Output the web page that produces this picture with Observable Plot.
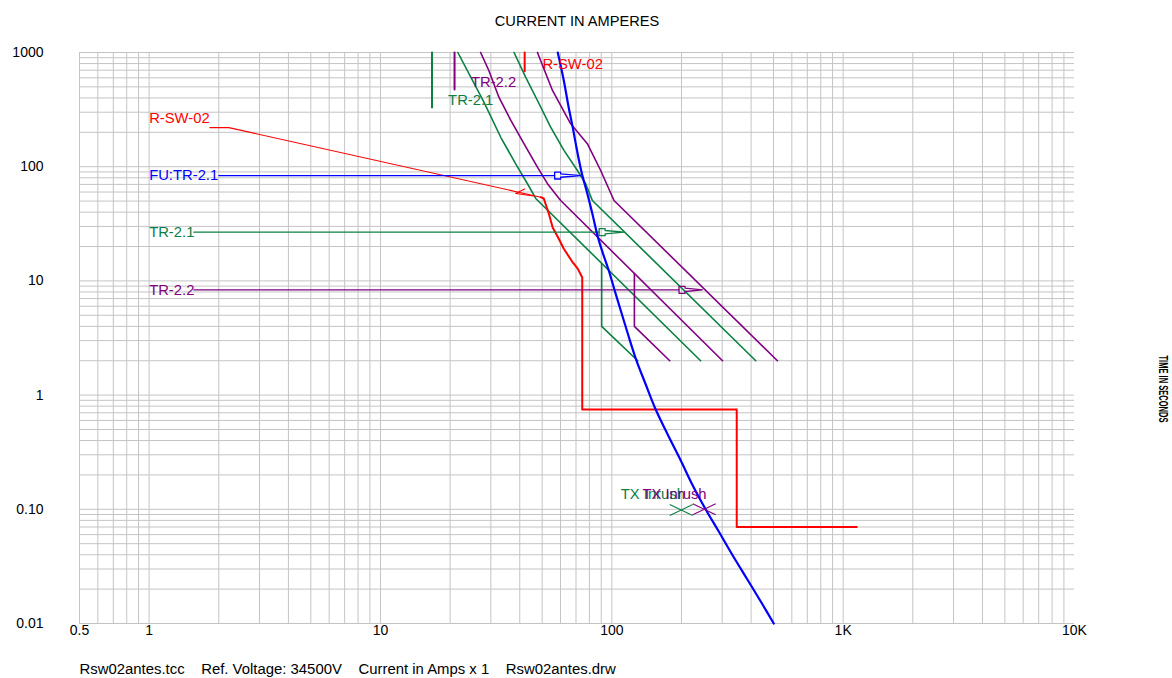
<!DOCTYPE html>
<html>
<head>
<meta charset="utf-8">
<script src="https://cdn.jsdelivr.net/npm/d3@7"></script>
<script src="https://cdn.jsdelivr.net/npm/@observablehq/plot@0.6"></script>
<style>
  html, body { margin: 0; padding: 0; background: #fff; }
</style>
</head>
<body>
<div id="chart"></div>
<script>
// ---------- axis ticks ----------
const xTicks = [0.5, 1, 10, 100, 1000, 10000];
const xTickLabels = ["0.5", "1", "10", "100", "1K", "10K"];
const yTicks = [0.01, 0.1, 1, 10, 100, 1000];
const yTickLabels = ["0.01", "0.10", "1", "10", "100", "1000"];

// ---------- FU:TR-2.1 fuse curve (blue) ----------
const fuseI = [58.4, 62.0, 65.1, 67.8, 69.8, 72.15, 74.6, 78.4, 82.4, 86.9, 91.3, 97.0, 102.9, 109.3, 117.2, 126.9, 140.2, 154.8, 174.4, 198.6, 223.8, 254.7, 289.9, 333.2, 383.1, 440.4, 501.2];
const fuseT = [1000, 569, 330, 220, 160, 113.3, 83.7, 57.9, 38.7, 24.5, 17.7, 12.33, 8.24, 5.51, 3.46, 2.09, 1.238, 0.748, 0.452, 0.2676, 0.1616, 0.0996, 0.0639, 0.0394, 0.02477, 0.01558, 0.01];

// ---------- R-SW-02 relay curve (red) ----------
const relayI = [49.3, 50.8, 53.4, 55.5, 58.9, 61.9, 67.8, 71.2, 74.5, 74.5, 346.7, 346.7, 1145];
const relayT = [54.1, 52.7, 38.9, 29.4, 23.5, 19.2, 14.5, 12.8, 10.7, 0.748, 0.748, 0.070, 0.070];
const relayLeaderI = [1.83, 2.21, 49.3];
const relayLeaderT = [220, 220, 54.1];
const relayArrowI = [42.0, 38.4, 45.9];
const relayArrowT = [63.8, 58.3, 55.4];
const relayTickI = [42.0, 42.0];
const relayTickT = [1000, 686];

// ---------- TR-2.1 damage curves (green) ----------
const tr21aI = [21.6, 28.0, 33.1, 38.4, 43.2, 46.9, 242];
const tr21aT = [1000, 367, 181, 106, 70.9, 52.7, 2];
const tr21bI = [37.8, 42.4, 47.7, 54.4, 62.1, 71.0, 77.1, 82.4, 419];
const tr21bT = [1000, 608, 380, 222, 139, 92.6, 70.9, 50.6, 2];
const tr21cI = [90.4, 90.4, 129.4];
const tr21cT = [14.2, 4, 2];
const tr21TickI = [16.7, 16.7];
const tr21TickT = [1000, 330];

// ---------- TR-2.2 damage curves (purple) ----------
const tr22aI = [27.1, 29.4, 32.5, 36.6, 41.7, 47.7, 52.7, 60.1, 301];
const tr22aT = [1000, 696, 406, 254, 159, 99, 71, 50.6, 2];
const tr22bI = [47.7, 55.4, 66.4, 78.4, 89.5, 102.2, 520];
const tr22bT = [1000, 465, 237.5, 159, 92.6, 50.6, 2];
const tr22cI = [125.2, 125.2, 178];
const tr22cT = [11.6, 4, 2];
const tr22TickI = [20.9, 20.9];
const tr22TickT = [1000, 474];

// ---------- label leaders: start current, arrow base, arrow tip, time ----------
const leaderNames = ["FU:TR-2.1", "TR-2.1", "TR-2.2"];
const leaderStart = [2.0, 1.56, 1.56];
const leaderBase = [56.6, 88.1, 195.2];
const leaderTip = [73.4, 112.9, 246.5];
const leaderTime = [83.7, 26.7, 8.36];
const leaderColors = ["#0000ff", "#0a8043", "#800080"];

// ---------- TX inrush points ----------
const inrushI = [199.5, 250.9];
const inrushT = [0.0986, 0.1];
const inrushColors = ["#0a8043", "#800080"];

// ---------- curve labels ----------
const labelText = ["R-SW-02", "FU:TR-2.1", "TR-2.1", "TR-2.2", "R-SW-02", "TR-2.2", "TR-2.1", "TX Inrush", "TX Inrush"];
const labelI = [1.0, 1.0, 1.0, 1.0, 50.1, 24.6, 19.6, 109.3, 135.6];
const labelT = [266, 83.7, 26.7, 8.36, 796, 549, 380, 0.135, 0.135];
const labelColor = ["#ff0000", "#0000ff", "#0a8043", "#800080", "#ff0000", "#800080", "#0a8043", "#0a8043", "#800080"];

const titleText = "CURRENT IN AMPERES";
const sideText = "TIME IN SECONDS";
const footerText = "Rsw02antes.tcc\u00a0\u00a0\u00a0\u00a0Ref. Voltage: 34500V\u00a0\u00a0\u00a0\u00a0Current in Amps x 1\u00a0\u00a0\u00a0\u00a0Rsw02antes.drw";

// ---------- helpers ----------
const pts = (I, T) => I.map((v, i) => ({I: v, t: T[i]}));
const decades = [0.001, 0.01, 0.1, 1, 10, 100, 1000];
const logGrid = (lo, hi) => decades.flatMap(d => d3.range(1, 10).map(k => +(k * d).toPrecision(3))).filter(v => v >= lo - 1e-9 && v <= hi + 1e-9);
const gridX = logGrid(0.5, 10000);
const gridY = logGrid(0.01, 1000);

const GREEN = "#0a8043", PURPLE = "#800080", RED = "#ff0000", BLUE = "#0000ff";

// arrow outline at the end of each leader (sizes as multiplicative factors in log space)
const aw = 1.0616, ah = 1.073, ahi = 1.035;
const arrows = leaderNames.flatMap((name, k) => {
  const b = leaderBase[k], tp = leaderTip[k], t = leaderTime[k];
  return [[b, t * ah], [b * aw, t * ah], [b * aw, t * ahi], [tp, t], [b * aw, t / ahi], [b * aw, t / ah], [b, t / ah], [b, t * ah]]
    .map(([I, tt]) => ({I, t: tt, k}));
});
const leaders = leaderNames.flatMap((name, k) => [
  {I: leaderStart[k], t: leaderTime[k], k},
  {I: leaderBase[k], t: leaderTime[k], k}
]);

// inrush "X" marks
const xf = 1.121, yf = 1.117;
const crosses = inrushI.flatMap((I, k) => [
  {x1: I / xf, y1: inrushT[k] * yf, x2: I * xf, y2: inrushT[k] / yf, k},
  {x1: I / xf, y1: inrushT[k] / yf, x2: I * xf, y2: inrushT[k] * yf, k}
]);

const labels = labelText.map((s, i) => ({s, I: labelI[i], t: labelT[i], c: labelColor[i]}));

const fmtY = v => yTickLabels[yTicks.findIndex(d => Math.abs(d - v) / d < 1e-6)];

const chart = Plot.plot({
  width: 1172,
  height: 678,
  marginLeft: 79,
  marginRight: 98,
  marginTop: 52,
  marginBottom: 55,
  style: {fontFamily: "'Liberation Sans', Arial, sans-serif", fontSize: "14px", background: "#ffffff", color: "#000"},
  x: {type: "log", domain: [0.5, 10000], axis: null},
  y: {type: "log", domain: [0.01, 1000], ticks: yTicks, tickFormat: fmtY, tickSize: 0, tickPadding: 36, label: null},
  marks: [
    Plot.ruleX(gridX, {stroke: "#c4c4c4", strokeWidth: 1}),
    Plot.ruleY(gridY, {stroke: "#c4c4c4", strokeWidth: 1}),

    // x tick labels
    Plot.text(xTicks, {x: d => d, text: (d, i) => xTickLabels[i], frameAnchor: "bottom", dy: 11, fontSize: 14, fill: "#000"}),

    // TR-2.1 (green)
    Plot.line(pts(tr21aI, tr21aT), {x: "I", y: "t", stroke: GREEN, strokeWidth: 1.6}),
    Plot.line(pts(tr21bI, tr21bT), {x: "I", y: "t", stroke: GREEN, strokeWidth: 1.6}),
    Plot.line(pts(tr21cI, tr21cT), {x: "I", y: "t", stroke: GREEN, strokeWidth: 1.6}),
    Plot.line(pts(tr21TickI, tr21TickT), {x: "I", y: "t", stroke: GREEN, strokeWidth: 2}),

    // TR-2.2 (purple)
    Plot.line(pts(tr22aI, tr22aT), {x: "I", y: "t", stroke: PURPLE, strokeWidth: 1.6}),
    Plot.line(pts(tr22bI, tr22bT), {x: "I", y: "t", stroke: PURPLE, strokeWidth: 1.6}),
    Plot.line(pts(tr22cI, tr22cT), {x: "I", y: "t", stroke: PURPLE, strokeWidth: 1.6}),
    Plot.line(pts(tr22TickI, tr22TickT), {x: "I", y: "t", stroke: PURPLE, strokeWidth: 2}),

    // R-SW-02 (red)
    Plot.line(pts(relayLeaderI, relayLeaderT), {x: "I", y: "t", stroke: RED, strokeWidth: 1.1}),
    Plot.line(pts(relayArrowI, relayArrowT), {x: "I", y: "t", stroke: RED, strokeWidth: 1.1}),
    Plot.line(pts(relayI, relayT), {x: "I", y: "t", stroke: RED, strokeWidth: 2}),
    Plot.line(pts(relayTickI, relayTickT), {x: "I", y: "t", stroke: RED, strokeWidth: 2}),

    // label leaders and arrows
    Plot.line(leaders, {x: "I", y: "t", z: "k", stroke: d => leaderColors[d.k], strokeWidth: 1.3}),
    Plot.line(arrows, {x: "I", y: "t", z: "k", stroke: d => leaderColors[d.k], strokeWidth: 1.3}),

    // FU:TR-2.1 (blue)
    Plot.line(pts(fuseI, fuseT), {x: "I", y: "t", stroke: BLUE, strokeWidth: 2.2, curve: "catmull-rom"}),

    // TX inrush marks
    Plot.link(crosses, {x1: "x1", y1: "y1", x2: "x2", y2: "y2", stroke: d => inrushColors[d.k], strokeWidth: 1.1}),

    // labels
    Plot.text(labels, {x: "I", y: "t", text: "s", fill: d => d.c, textAnchor: "start", fontSize: 14.8}),

    // title, side label, footer
    Plot.text([titleText], {frameAnchor: "top", dy: -37, fontSize: 14.6, fill: "#000"}),
    Plot.text([sideText], {frameAnchor: "right", dx: 89, dy: 17.5, rotate: 90, textAnchor: "start", fontSize: 13, fill: "#000", fontWeight: "bold"}),
    Plot.text([footerText], {frameAnchor: "bottom-left", dy: 50, textAnchor: "start", fontSize: 14.9, fill: "#000"})
  ]
});

// squeeze the side label like the original
chart.querySelectorAll("text").forEach(el => {
  if (el.textContent === sideText) {
    el.setAttribute("textLength", "67");
    el.setAttribute("lengthAdjust", "spacingAndGlyphs");
  }
});

document.getElementById("chart").appendChild(chart);
</script>
</body>
</html>
